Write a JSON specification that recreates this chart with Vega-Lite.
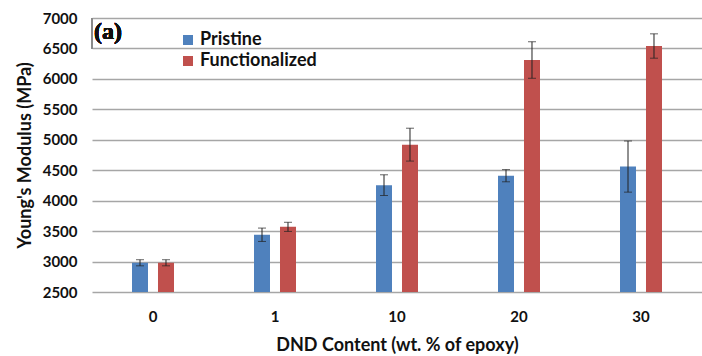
{
  "$schema": "https://vega.github.io/schema/vega-lite/v6.json",
  "width": 610,
  "height": 274,
  "autosize": "none",
  "padding": {"left": 92, "top": 18, "right": 0, "bottom": 64},
  "background": "white",
  "config": {
    "view": {"stroke": null},
    "font": "Lato"
  },
  "data": {
    "values": [
      {"dnd": "0", "type": "Pristine", "value": 2980, "lo": 2930, "hi": 3030},
      {"dnd": "0", "type": "Functionalized", "value": 2980, "lo": 2930, "hi": 3030},
      {"dnd": "1", "type": "Pristine", "value": 3440, "lo": 3330, "hi": 3550},
      {"dnd": "1", "type": "Functionalized", "value": 3570, "lo": 3495, "hi": 3645},
      {"dnd": "10", "type": "Pristine", "value": 4255, "lo": 4085, "hi": 4425},
      {"dnd": "10", "type": "Functionalized", "value": 4920, "lo": 4650, "hi": 5190},
      {"dnd": "20", "type": "Pristine", "value": 4410, "lo": 4310, "hi": 4510},
      {"dnd": "20", "type": "Functionalized", "value": 6310, "lo": 6010, "hi": 6610},
      {"dnd": "30", "type": "Pristine", "value": 4560, "lo": 4140, "hi": 4980},
      {"dnd": "30", "type": "Functionalized", "value": 6540, "lo": 6340, "hi": 6740}
    ]
  },
  "encoding": {
    "x": {
      "field": "dnd",
      "type": "nominal",
      "sort": ["0", "1", "10", "20", "30"],
      "scale": {"paddingInner": 0, "paddingOuter": 0},
      "axis": {
        "title": "DND Content (wt. % of epoxy)",
        "titleFont": "Lato",
        "titleFontSize": 18,
        "titleFontWeight": "bold",
        "titleColor": "#111",
        "titlePadding": 12,
        "labelAngle": 0,
        "labelFont": "Lato",
        "labelFontSize": 15,
        "labelFontWeight": "bold",
        "labelColor": "#111",
        "labelPadding": 17,
        "domain": false,
        "ticks": false
      }
    },
    "xOffset": {
      "field": "type",
      "type": "nominal",
      "sort": ["Pristine", "Functionalized"],
      "scale": {"range": [40, 82], "paddingInner": 0.3846, "paddingOuter": 0}
    },
    "y": {
      "field": "value",
      "type": "quantitative",
      "scale": {"domain": [2500, 7000], "nice": false, "zero": false},
      "axis": {
        "title": "Young's Modulus (MPa)",
        "titleFont": "Lato",
        "titleFontSize": 18,
        "titleFontWeight": "bold",
        "titleColor": "#111",
        "titlePadding": 8,
        "tickCount": 9,
        "format": "d",
        "labelOverlap": false,
        "labelFont": "Lato",
        "labelFontSize": 15,
        "labelFontWeight": "bold",
        "labelColor": "#111",
        "labelPadding": 15,
        "domain": false,
        "ticks": false,
        "grid": true,
        "gridColor": "#a6a6a6",
        "gridWidth": 1.5
      }
    }
  },
  "layer": [
    {
      "mark": {"type": "bar", "stroke": null, "clip": true},
      "encoding": {
        "color": {
          "field": "type",
          "type": "nominal",
          "sort": ["Pristine", "Functionalized"],
          "scale": {"domain": ["Pristine", "Functionalized"], "range": ["#4F81BD", "#C0504D"]},
          "legend": {
            "title": null,
            "orient": "none",
            "legendX": 87,
            "legendY": 13,
            "symbolType": "square",
            "symbolSize": 100,
            "symbolStrokeWidth": 0,
            "labelFont": "Lato",
            "labelFontSize": 18,
            "labelFontWeight": "bold",
            "labelColor": "#111",
            "labelOffset": 3,
            "rowPadding": 3
          }
        }
      }
    },
    {
      "mark": {"type": "rule", "color": "#222", "strokeWidth": 1},
      "encoding": {
        "y": {"field": "lo", "type": "quantitative"},
        "y2": {"field": "hi"}
      }
    },
    {
      "mark": {"type": "tick", "color": "#222", "thickness": 1, "size": 8},
      "encoding": {"y": {"field": "lo", "type": "quantitative"}}
    },
    {
      "mark": {"type": "tick", "color": "#222", "thickness": 1, "size": 8},
      "encoding": {"y": {"field": "hi", "type": "quantitative"}}
    },
    {
      "mark": {"type": "rule", "color": "#8a8a8a", "strokeWidth": 1.2},
      "encoding": {
        "x": {"datum": "0"},
        "xOffset": {"value": 0},
        "y": {"datum": 7000},
        "y2": {"datum": 6500}
      }
    },
    {
      "mark": {
        "type": "text",
        "text": "(a)",
        "font": "Liberation Serif",
        "fontSize": 24,
        "fontWeight": "bold",
        "color": "#111",
        "align": "left",
        "baseline": "middle",
        "dx": 2
      },
      "encoding": {
        "x": {"datum": "0"},
        "xOffset": {"value": 0},
        "y": {"datum": 6770}
      }
    }
  ]
}
